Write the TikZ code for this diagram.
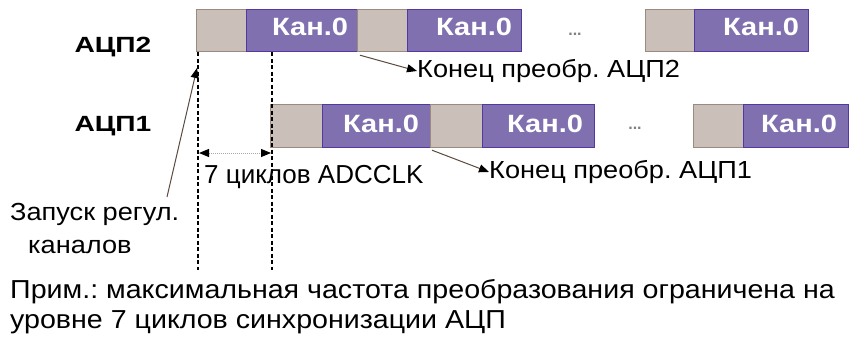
\documentclass[tikz,border=0pt]{standalone}
\usepackage{fontspec}
\setmainfont{Liberation Sans}
\newfontfamily\widefont[FakeStretch=1.1]{Liberation Sans}
\newfontfamily\kanfont[FakeStretch=1.16]{Liberation Sans}
\newfontfamily\adcfont[FakeStretch=1.28]{Liberation Sans}
\usetikzlibrary{arrows.meta}
\definecolor{gfill}{HTML}{CBC0B9}
\definecolor{gdraw}{HTML}{9A8B7E}
\definecolor{pfill}{HTML}{8070B0}
\definecolor{pdraw}{HTML}{5238A0}
\definecolor{lead}{HTML}{5A4A40}
\definecolor{dotc}{HTML}{B0A8A0}
\tikzset{
  gbox/.style={draw=gdraw, fill=gfill, line width=1.2pt, inner sep=0pt, anchor=north west},
  pbox/.style={draw=pdraw, fill=pfill, line width=1.2pt, inner sep=0pt, anchor=north west},
  kan/.style={text=white, font=\kanfont\fontsize{25}{28}\selectfont\bfseries, inner sep=0pt, anchor=east},
  adc/.style={font=\adcfont\fontsize{22}{26}\selectfont\bfseries, inner sep=0pt},
  txt/.style={font=\widefont\fontsize{26}{30}\selectfont, inner sep=0pt},
  smtxt/.style={font=\widefont\fontsize{24.7}{29}\selectfont, inner sep=0pt},
  vdash/.style={line width=1.3pt, dash pattern=on 4pt off 2.5pt},
  tri/.style={-{Triangle[length=10pt,width=8pt,color=black,fill=black]}},
  dtri/.style={{Triangle[length=10pt,width=8pt,color=black,fill=black]}-{Triangle[length=10pt,width=8pt,color=black,fill=black]}},
  ellip/.style={font=\fontsize{16}{20}\selectfont\bfseries, text=gray, inner sep=0pt}
}
\frenchspacing
\begin{document}
\begin{tikzpicture}[x=1pt,y=-1pt]
\useasboundingbox[fill=white] (0,0) rectangle (855,340);
% ADC2 row
\node[gbox, minimum width=50pt, minimum height=42pt] (g21) at (196,9) {};
\node[pbox, minimum width=111pt, minimum height=42pt] (k21) at (246,9) {};
\node[gbox, minimum width=50pt, minimum height=42pt] (g22) at (357,9) {};
\node[pbox, minimum width=114pt, minimum height=42pt] (k22) at (407,9) {};
\node[ellip] (d2) at (575,34) {...};
\node[gbox, minimum width=49pt, minimum height=42pt] (g23) at (645,9) {};
\node[pbox, minimum width=114pt, minimum height=42pt] (k23) at (694,9) {};
\node[kan] (t21) at ([xshift=-10pt,yshift=4pt]k21.east) {Кан.0};
\node[kan] (t22) at ([xshift=-10pt,yshift=4pt]k22.east) {Кан.0};
\node[kan] (t23) at ([xshift=-10pt,yshift=4pt]k23.east) {Кан.0};
% ADC1 row
\node[gbox, minimum width=52pt, minimum height=43pt] (g11) at (270,104) {};
\node[pbox, minimum width=108pt, minimum height=43pt] (k11) at (322,104) {};
\node[gbox, minimum width=52pt, minimum height=43pt] (g12) at (430,104) {};
\node[pbox, minimum width=112pt, minimum height=43pt] (k12) at (482,104) {};
\node[ellip] (d1) at (635,128) {...};
\node[gbox, minimum width=50pt, minimum height=43pt] (g13) at (693,104) {};
\node[pbox, minimum width=105pt, minimum height=43pt] (k13) at (743,104) {};
\node[kan] (t11) at ([xshift=-12pt,yshift=2pt]k11.east) {Кан.0};
\node[kan] (t12) at ([xshift=-12pt,yshift=2pt]k12.east) {Кан.0};
\node[kan] (t13) at ([xshift=-12pt,yshift=2pt]k13.east) {Кан.0};
% labels
\node[adc] (a2) at (113,47) {АЦП2};
\node[adc] (a1) at (113,126) {АЦП1};
% dashed lines
\coordinate (e1) at (198,270);
\coordinate (e2) at (272,270);
\draw[vdash] ([xshift=2pt]g21.south west) -- (e1);
\draw[vdash] ([xshift=26pt]k21.south west) -- (e2);
% start arrow
\node[smtxt, anchor=west] (zap) at (10,214) {Запуск регул.};
\node[smtxt, anchor=west] (kan) at (28,247) {каналов};
\coordinate (zs) at (167,197);
\coordinate (zt) at (197,68);
\draw[lead, line width=1pt, tri] (zs) -- (zt);
% 7 cycles
\coordinate (c1) at (199,153);
\coordinate (c2) at (271,153);
\draw[dotc, line width=1pt, densely dotted, dtri] (c1) -- (c2);
\node[txt, anchor=west, font=\fontsize{26}{30}\selectfont] (cyc) at (204,177) {7 циклов ADCCLK};
% end conversions
\node[smtxt, anchor=west] (end2) at (417,71) {Конец преобр. АЦП2};
\node[smtxt, anchor=west] (end1) at (489,172) {Конец преобр. АЦП1};
\draw[lead, line width=1pt, tri] ([shift={(3pt,-3pt)}]g22.south west) -- (end2.west);
\draw[lead, line width=1pt, tri] ([shift={(2pt,-2pt)}]g12.south west) -- (end1.west);
% note
\node[txt, anchor=west] (n1) at (10,292) {Прим.: максимальная частота преобразования ограничена на};
\node[txt, anchor=west] (n2) at (10,322) {уровне 7 циклов синхронизации АЦП};
\end{tikzpicture}
\end{document}
